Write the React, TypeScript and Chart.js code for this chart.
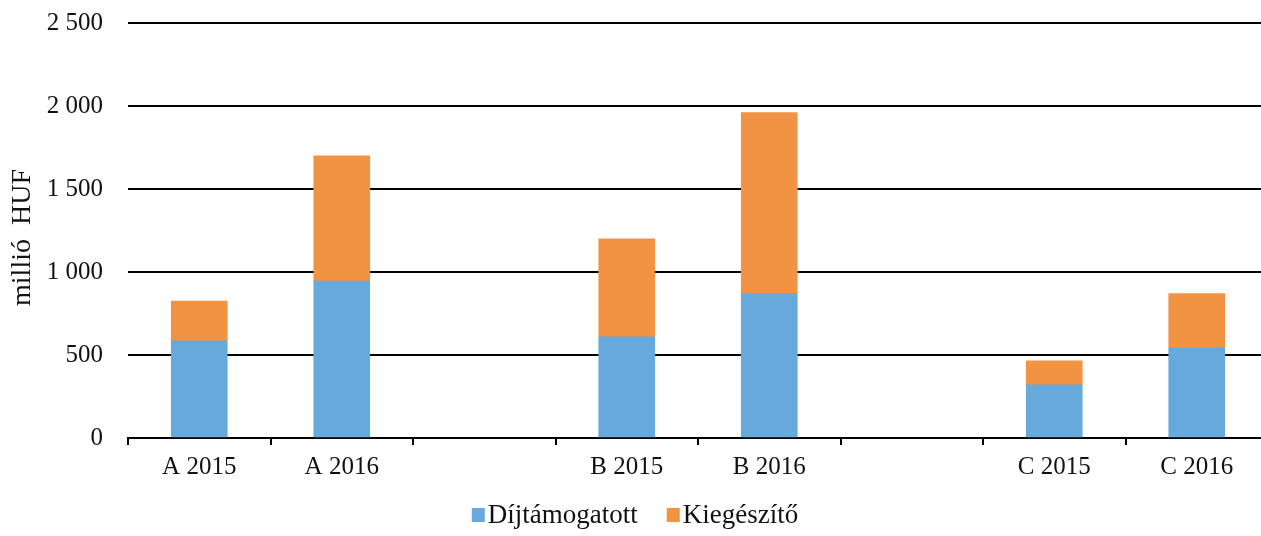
import React, { useEffect, useRef } from "react";
import { Chart, registerables } from "chart.js";

Chart.register(...registerables);

const categories = ["A 2015", "A 2016", "", "B 2015", "B 2016", "", "C 2015", "C 2016"];
const dijtamogatott = [585, 945, null, 610, 870, null, 320, 545];
const kiegeszito = [240, 755, null, 590, 1090, null, 145, 325];
const seriesNames = ["Díjtámogatott", "Kiegészítő"];
const yTicks = [0, 500, 1000, 1500, 2000, 2500];
const yTitle = "millió  HUF  ";

const BLUE = "#68A9DB";
const ORANGE = "#F29243";
const FONT = "'Liberation Serif', 'Times New Roman', serif";
const FS = 25;
const LEGEND_FS = 27;

function fmt(v: number): string {
  return String(v).replace(/\B(?=(\d{3})+(?!\d))/g, " ");
}

// Custom legend: small square swatch placed tight to its label, centred below the axis
const bottomLegend = {
  id: "bottomLegend",
  afterDraw(chart: any) {
    const ctx = chart.ctx;
    const box = 13;
    const boxGap = 3;
    const itemGap = 29;
    ctx.save();
    ctx.font = `${LEGEND_FS}px ${FONT}`;
    ctx.textBaseline = "alphabetic";
    ctx.textAlign = "left";
    const items = chart.data.datasets.map((d: any) => ({
      text: d.label,
      color: d.backgroundColor,
      w: ctx.measureText(d.label).width,
    }));
    const total =
      items.reduce((s: number, it: any) => s + box + boxGap + it.w, 0) + itemGap * (items.length - 1);
    let x = chart.width / 2 - total / 2;
    const baseline = 523;
    items.forEach((it: any) => {
      ctx.fillStyle = it.color;
      ctx.fillRect(x, baseline - 15, box, 14);
      x += box + boxGap;
      ctx.fillStyle = "#111";
      ctx.fillText(it.text, x, baseline);
      x += it.w + itemGap;
    });
    ctx.restore();
  },
};

export default function App() {
  const ref = useRef<HTMLCanvasElement | null>(null);
  useEffect(() => {
    if (!ref.current) return;
    const chart = new Chart(ref.current, {
      type: "bar",
      data: {
        labels: categories,
        datasets: [
          { label: seriesNames[0], data: dijtamogatott, backgroundColor: BLUE, barThickness: 56 },
          { label: seriesNames[1], data: kiegeszito, backgroundColor: ORANGE, barThickness: 56 },
        ],
      },
      plugins: [bottomLegend],
      options: {
        animation: false,
        responsive: true,
        maintainAspectRatio: false,
        layout: { padding: { top: 0, right: 2, left: 0, bottom: 42 } },
        plugins: {
          tooltip: { enabled: false },
          legend: { display: false },
        },
        scales: {
          x: {
            stacked: true,
            afterFit: (s: any) => {
              s.height = 56;
            },
            grid: {
              display: true,
              offset: true,
              drawOnChartArea: false,
              drawTicks: true,
              tickLength: 7,
              color: "#000",
              lineWidth: 2,
            },
            border: { display: true, color: "#000", width: 2 },
            ticks: { color: "#111", font: { family: FONT, size: FS }, padding: 7, autoSkip: false, maxRotation: 0 },
          },
          y: {
            stacked: true,
            min: 0,
            max: 2500,
            afterBuildTicks: (s: any) => {
              s.ticks = yTicks.map((v) => ({ value: v }));
            },
            afterFit: (s: any) => {
              s.width = 128;
            },
            grid: { color: "#000", lineWidth: 2, drawTicks: true, tickLength: 17, tickColor: "rgba(0,0,0,0)" },
            border: { display: false },
            ticks: {
              color: "#111",
              font: { family: FONT, size: FS },
              padding: 8,
              callback: (v: any) => fmt(Number(v)),
            },
            title: {
              display: true,
              text: yTitle,
              color: "#111",
              font: { family: FONT, size: 28 },
              padding: { top: 6, bottom: 0 },
            },
          },
        },
      },
    });
    return () => chart.destroy();
  }, []);
  return (
    <div style={{ position: "fixed", left: 0, top: 0, width: 1270, height: 536, background: "#fff" }}>
      <canvas ref={ref} />
    </div>
  );
}
